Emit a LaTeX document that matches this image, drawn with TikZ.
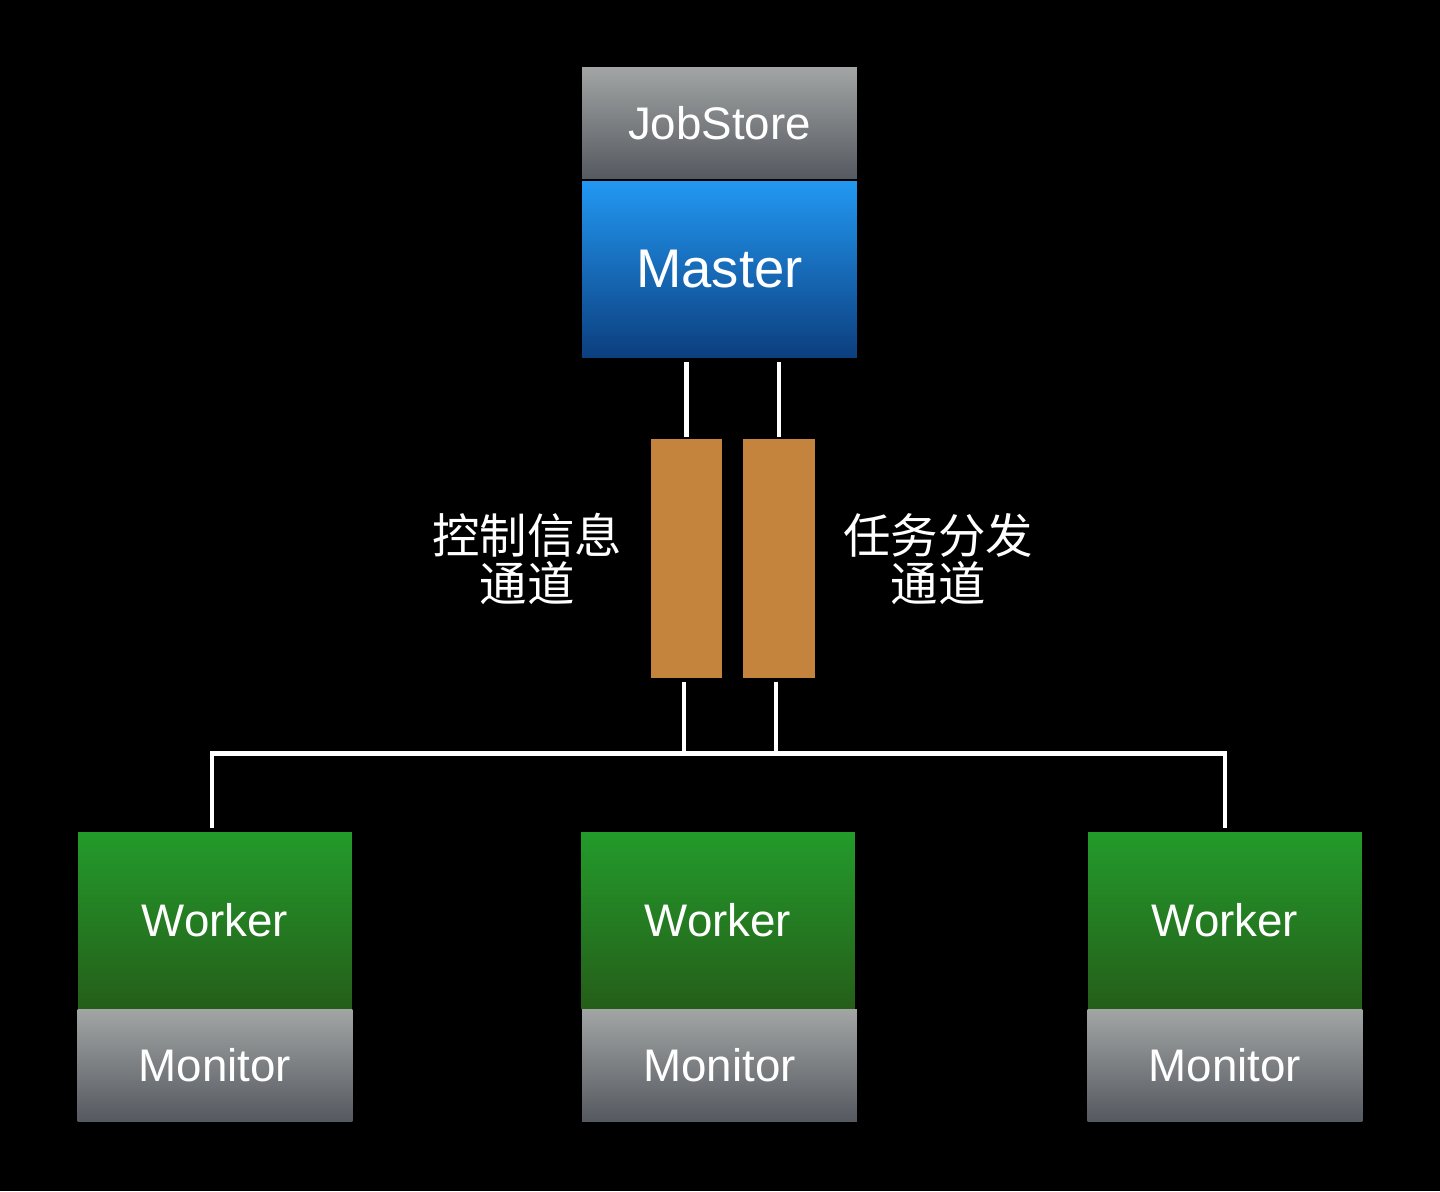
\documentclass[tikz,border=0pt]{standalone}
\usepackage{fontspec}
\setmainfont{Liberation Sans}
\newfontfamily\cjk{Noto Sans CJK SC}
\usetikzlibrary{shapes}

\definecolor{stoneTop}{HTML}{A2A5A4}
\definecolor{stoneBot}{HTML}{555960}
\definecolor{masterTop}{HTML}{2298F2}
\definecolor{masterBot}{HTML}{0C3E7E}
\definecolor{workerTop}{HTML}{239B2B}
\definecolor{workerBot}{HTML}{255E19}
\definecolor{chanFill}{HTML}{C4843E}

\begin{document}
\begin{tikzpicture}[x=0.02cm,y=-0.02cm]
	\tikzstyle{every node}+=[inner sep=0pt, text=white]
	\tikzstyle{greybox}=[top color=stoneTop, bottom color=stoneBot, minimum width=5.5cm, minimum height=2.23cm, font=\fontsize{26}{26}\selectfont]
	\tikzstyle{masterbox}=[top color=masterTop, bottom color=masterBot, minimum width=5.5cm, minimum height=3.54cm, font=\fontsize{31}{31}\selectfont]
	\tikzstyle{workerbox}=[top color=workerTop, bottom color=workerBot, minimum width=5.48cm, minimum height=3.52cm, font=\fontsize{26}{26}\selectfont]
	\tikzstyle{chanbox}=[fill=chanFill, minimum width=1.43cm, minimum height=4.78cm]
	\tikzstyle{chanlabel}=[align=center, font=\cjk\fontsize{27}{27.5}\selectfont]
	\tikzstyle{wire}=[white, line width=2.4pt]
	\fill [black] (0,0) rectangle (1440,1191);
	\node [greybox] (store) at (719.5,123) {JobStore};
	\node [masterbox] (mst) at (719.5,269.5) {Master};
	\node [chanbox] (chanA) at (686.5,558.5) {};
	\node [chanbox] (chanB) at (779,558.5) {};
	\node [chanlabel] (ctrl) at (527,559) {控制信息\\通道};
	\node [chanlabel] (task) at (938,559) {任务分发\\通道};
	\node [workerbox] (wk1) at (215,920) {Worker};
	\node [workerbox] (wk2) at (718,920) {Worker};
	\node [workerbox] (wk3) at (1225,920) {Worker};
	\node [greybox] (mon1) at (215,1065.5) {Monitor};
	\node [greybox] (mon2) at (719.5,1065.5) {Monitor};
	\node [greybox] (mon3) at (1225,1065.5) {Monitor};
	\coordinate (bus) at (719.5,753.5);
	\draw [wire, shorten <=2pt, shorten >=1pt] (mst.south -| chanA) -- (chanA.north);
	\draw [wire, shorten <=2pt, shorten >=1pt] (mst.south -| chanB) -- (chanB.north);
	\draw [wire, shorten <=2pt] ([xshift=-0.05cm]chanA.south) -- ([xshift=-0.05cm]chanA.south |- bus);
	\draw [wire, shorten <=2pt] ([xshift=-0.06cm]chanB.south) -- ([xshift=-0.06cm]chanB.south |- bus);
	\draw [wire, shorten <=2pt, shorten >=2pt, line join=miter] ([xshift=-0.06cm]wk1.north) -- ([xshift=-0.06cm]wk1.north |- bus) -- (wk3 |- bus) -- (wk3.north);
\end{tikzpicture}
\end{document}
